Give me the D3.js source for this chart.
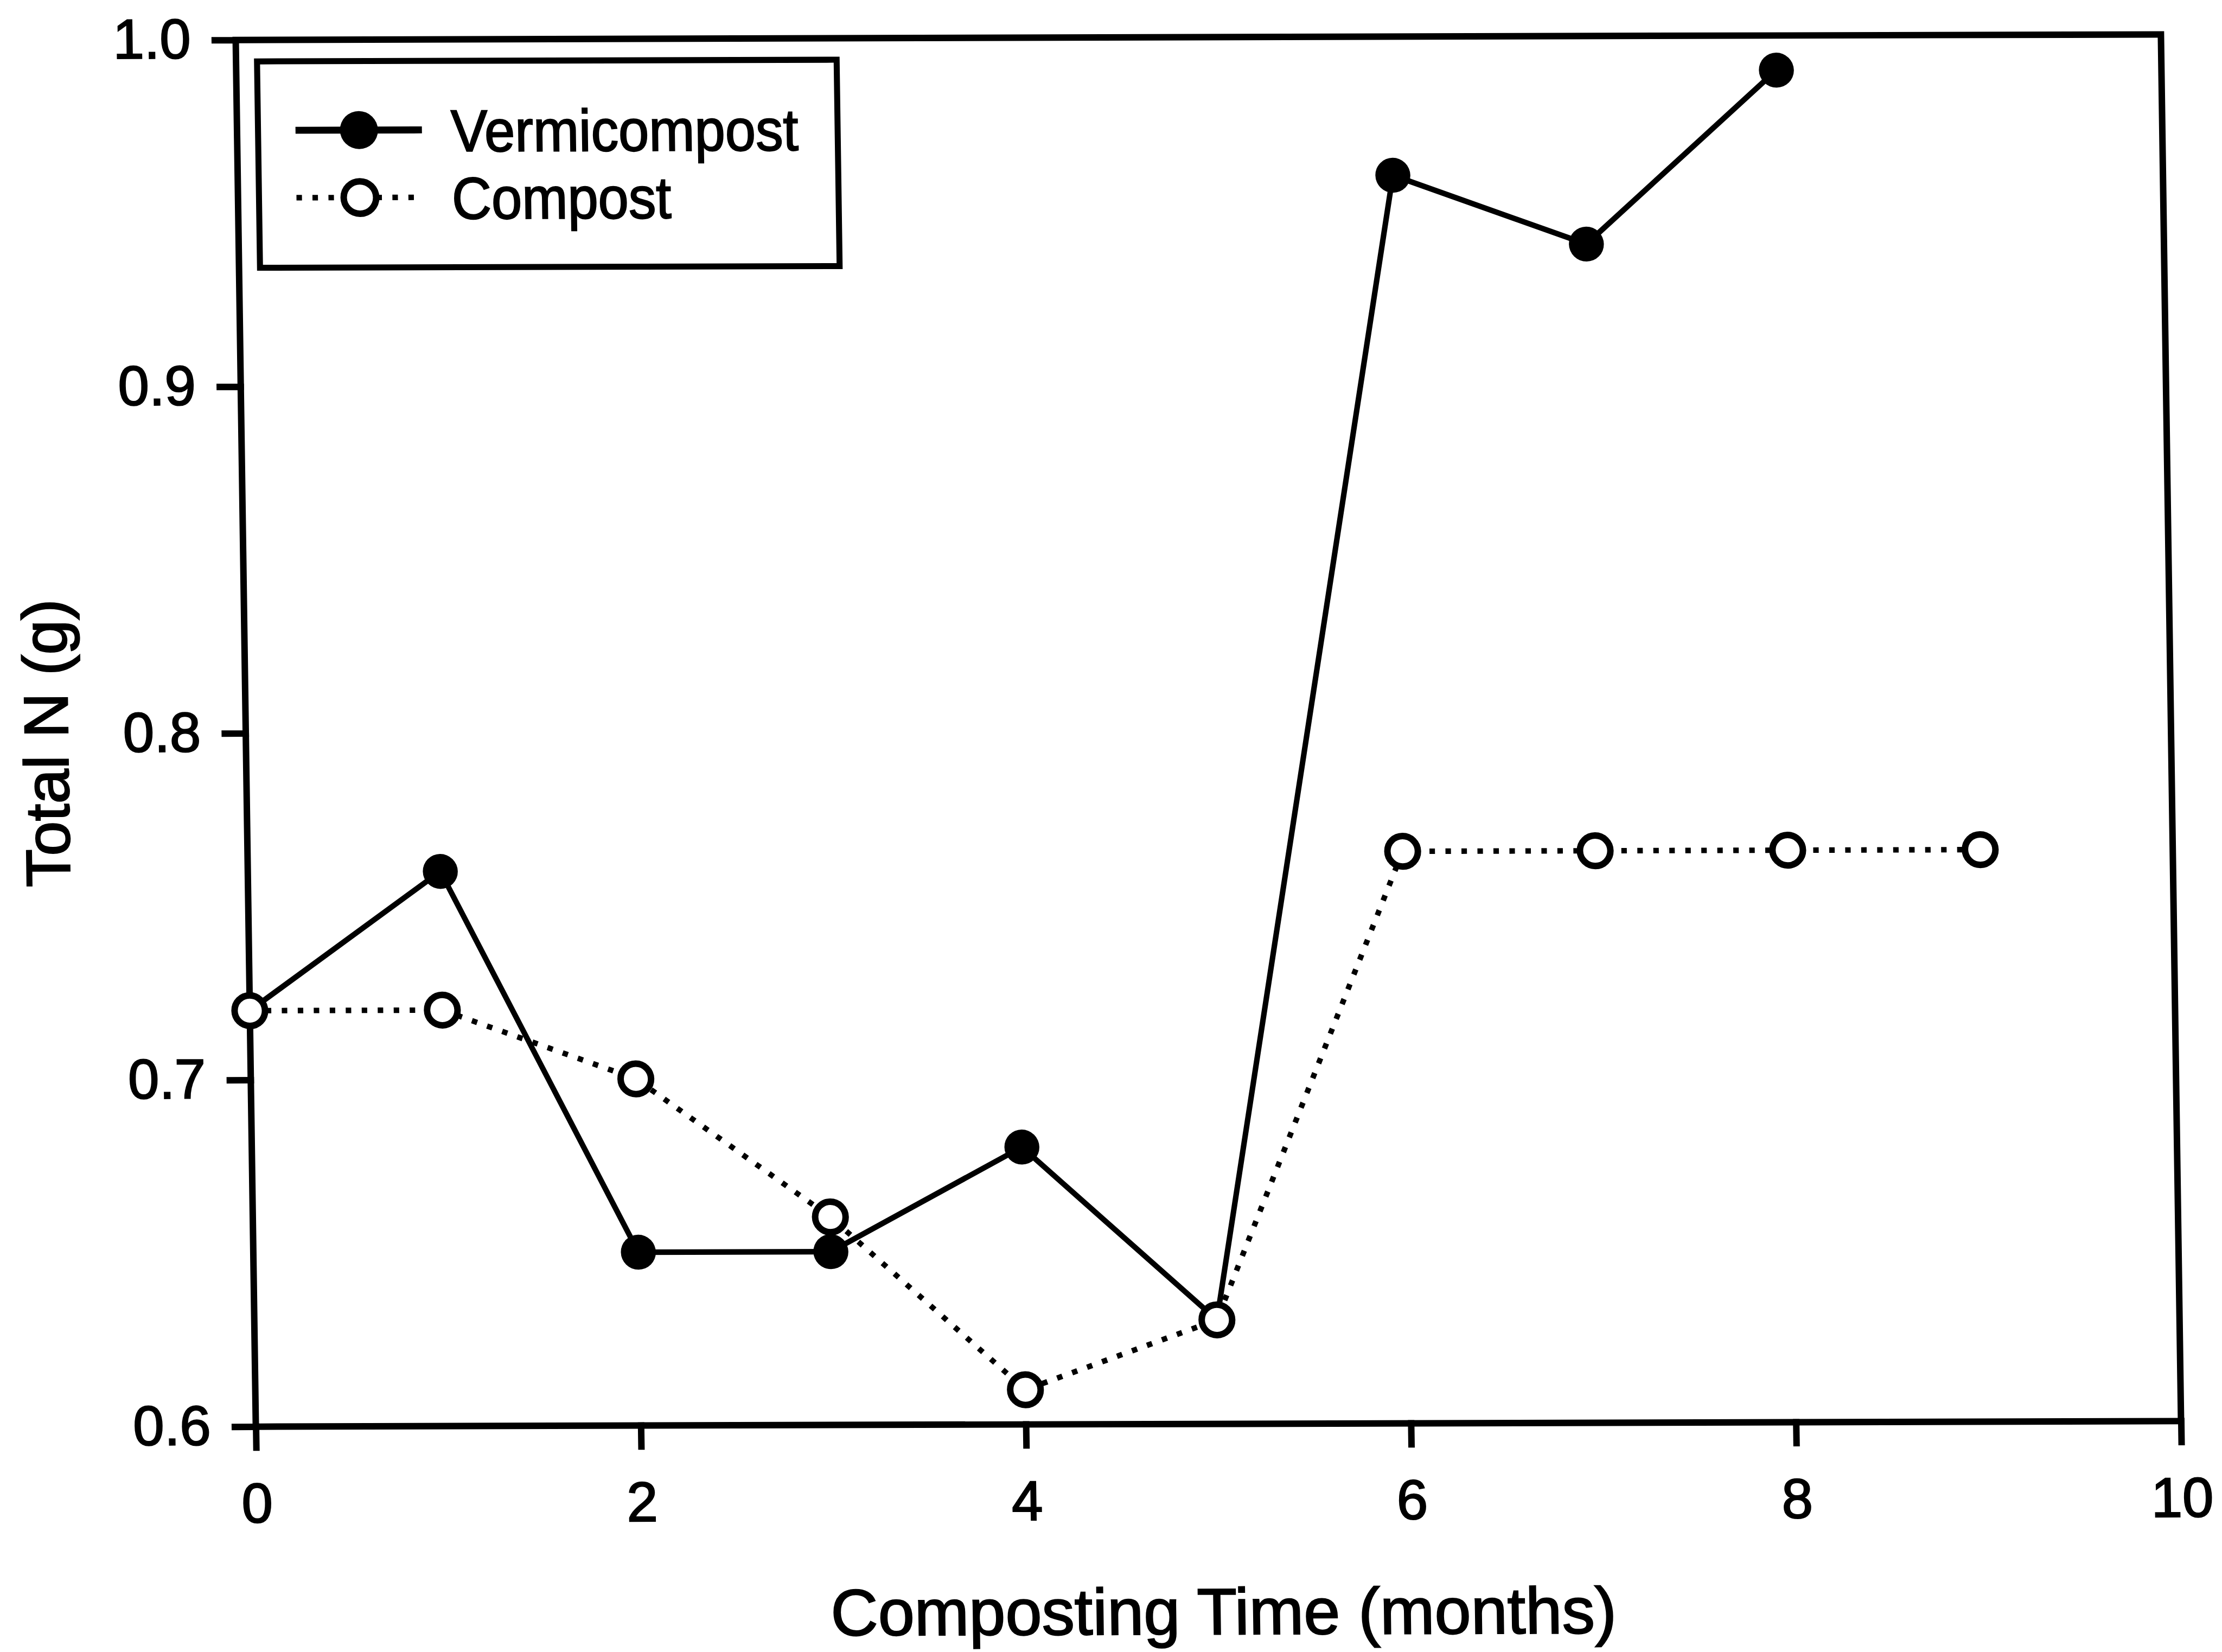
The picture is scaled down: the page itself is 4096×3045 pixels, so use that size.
<!DOCTYPE html>
<html>
<head>
<meta charset="utf-8">
<script src="https://cdn.jsdelivr.net/npm/d3@7/dist/d3.min.js"></script>
<style>
  html, body { margin: 0; padding: 0; background: #ffffff; }
  svg { display: block; }
  text { font-family: "Liberation Sans", Arial, Helvetica, sans-serif; fill: #000; stroke: #000; stroke-width: 2.5px; }
</style>
</head>
<body>
<script>
// Sampling months and total nitrogen (g) for each treatment
const months = [0, 1, 2, 3, 4, 5, 6, 7, 8, 9];
const vermicompostN = [0.72, 0.76, 0.65, 0.65, 0.68, 0.63, 0.96, 0.94, 0.99];
const compostN = [0.72, 0.72, 0.70, 0.66, 0.61, 0.63, 0.765, 0.765, 0.765, 0.765];

const xTicks = [0, 2, 4, 6, 8, 10];
const yTicks = [0.6, 0.7, 0.8, 0.9, 1.0];
const seriesNames = ["Vermicompost", "Compost"];
const xTitle = "Composting Time (months)";
const yTitle = "Total N (g)";

// Layout is written in a 4447 x 3306 design space and scaled to the window
const W = 4096, H = 3045;
const DW = 4447, DH = 3306;
const S = W / DW;

// plot frame in design space
const L = 512, R = 4365, T = 80, B = 2855;

// the printed figure is slightly sheared
const shearK = 0.0145, shearH = -0.0029;

const svg = d3.select("body").append("svg")
  .attr("width", W).attr("height", H)
  .attr("viewBox", `0 0 ${W} ${H}`);

svg.append("rect").attr("width", W).attr("height", H).attr("fill", "#fff");

const root = svg.append("g").attr("transform", `scale(${S})`)
  .append("g")
  .attr("transform", `matrix(1,${shearH},${shearK},1,${-shearK * B},${-shearH * L})`);

const x = d3.scaleLinear().domain([0, 10]).range([L, R]);
const y = d3.scaleLinear().domain([0.6, 1.0]).range([B, T]);

const tickLen = 42;
const frameW = 13;

// y axis (left, outward ticks)
const yAxis = root.append("g").attr("transform", `translate(${L},0)`)
  .call(d3.axisLeft(y).tickValues(yTicks).tickFormat(d3.format(".1f"))
    .tickSize(tickLen).tickPadding(48));
yAxis.select(".domain").remove();
yAxis.selectAll(".tick line").attr("stroke", "#000").attr("stroke-width", frameW)
  .attr("stroke-linecap", "square");
yAxis.selectAll(".tick text").attr("font-size", 112)
  .attr("font-family", "'Liberation Sans', Arial, sans-serif").attr("fill", "#000");

// x axis (bottom, outward ticks)
const xAxis = root.append("g").attr("transform", `translate(0,${B})`)
  .call(d3.axisBottom(x).tickValues(xTicks).tickFormat(d3.format("d"))
    .tickSize(tickLen).tickPadding(70));
xAxis.select(".domain").remove();
xAxis.selectAll(".tick line").attr("stroke", "#000").attr("stroke-width", frameW)
  .attr("stroke-linecap", "square");
xAxis.selectAll(".tick text").attr("font-size", 112)
  .attr("font-family", "'Liberation Sans', Arial, sans-serif").attr("fill", "#000");

// plot frame
root.append("rect")
  .attr("x", L).attr("y", T).attr("width", R - L).attr("height", B - T)
  .attr("fill", "none").attr("stroke", "#000").attr("stroke-width", frameW);

// axis titles
root.append("text")
  .attr("x", (L + R) / 2 + 5).attr("y", 3276)
  .attr("text-anchor", "middle").attr("font-size", 131)
  .text(xTitle);

root.append("text")
  .attr("transform", `translate(156,1486) rotate(-90)`)
  .attr("text-anchor", "middle").attr("font-size", 125)
  .text(yTitle);

// series
const vData = vermicompostN.map((v, i) => ({ m: months[i], v }));
const cData = compostN.map((v, i) => ({ m: months[i], v }));

const line = d3.line().x(d => x(d.m)).y(d => y(d.v));

root.append("path").datum(vData)
  .attr("d", line).attr("fill", "none")
  .attr("stroke", "#000").attr("stroke-width", 11).attr("stroke-linejoin", "round");

root.selectAll("circle.verm").data(vData).join("circle")
  .attr("class", "verm")
  .attr("cx", d => x(d.m)).attr("cy", d => y(d.v))
  .attr("r", 35).attr("fill", "#000");

root.append("path").datum(cData)
  .attr("d", line).attr("fill", "none")
  .attr("stroke", "#000").attr("stroke-width", 11)
  .attr("stroke-dasharray", "11 21");

root.selectAll("circle.comp").data(cData).join("circle")
  .attr("class", "comp")
  .attr("cx", d => x(d.m)).attr("cy", d => y(d.v))
  .attr("r", 30.5).attr("fill", "#fff")
  .attr("stroke", "#000").attr("stroke-width", 13);

// legend
const lg = root.append("g");
lg.append("rect")
  .attr("x", 554).attr("y", 123).attr("width", 1714 - 554).attr("height", 536 - 123)
  .attr("fill", "#fff").attr("stroke", "#000").attr("stroke-width", 12);

const rows = [
  { name: seriesNames[0], cy: 261, filled: true },
  { name: seriesNames[1], cy: 396, filled: false }
];
const lx0 = 629, lx1 = 882, lmx = 756, ltx = 940;

rows.forEach(r => {
  const ln = lg.append("line")
    .attr("x1", lx0).attr("x2", lx1).attr("y1", r.cy).attr("y2", r.cy)
    .attr("stroke", "#000");
  if (r.filled) {
    ln.attr("stroke-width", 14);
    lg.append("circle").attr("cx", lmx).attr("cy", r.cy).attr("r", 38).attr("fill", "#000");
  } else {
    ln.attr("stroke-width", 11).attr("stroke-dasharray", "11 21");
    lg.append("circle").attr("cx", lmx).attr("cy", r.cy).attr("r", 32.5)
      .attr("fill", "#fff").attr("stroke", "#000").attr("stroke-width", 13);
  }
  // slightly condensed legend lettering
  lg.append("text")
    .attr("transform", `translate(${ltx},${r.cy + 43}) scale(0.93,1)`)
    .attr("font-size", 118)
    .text(r.name);
});
</script>
</body>
</html>
